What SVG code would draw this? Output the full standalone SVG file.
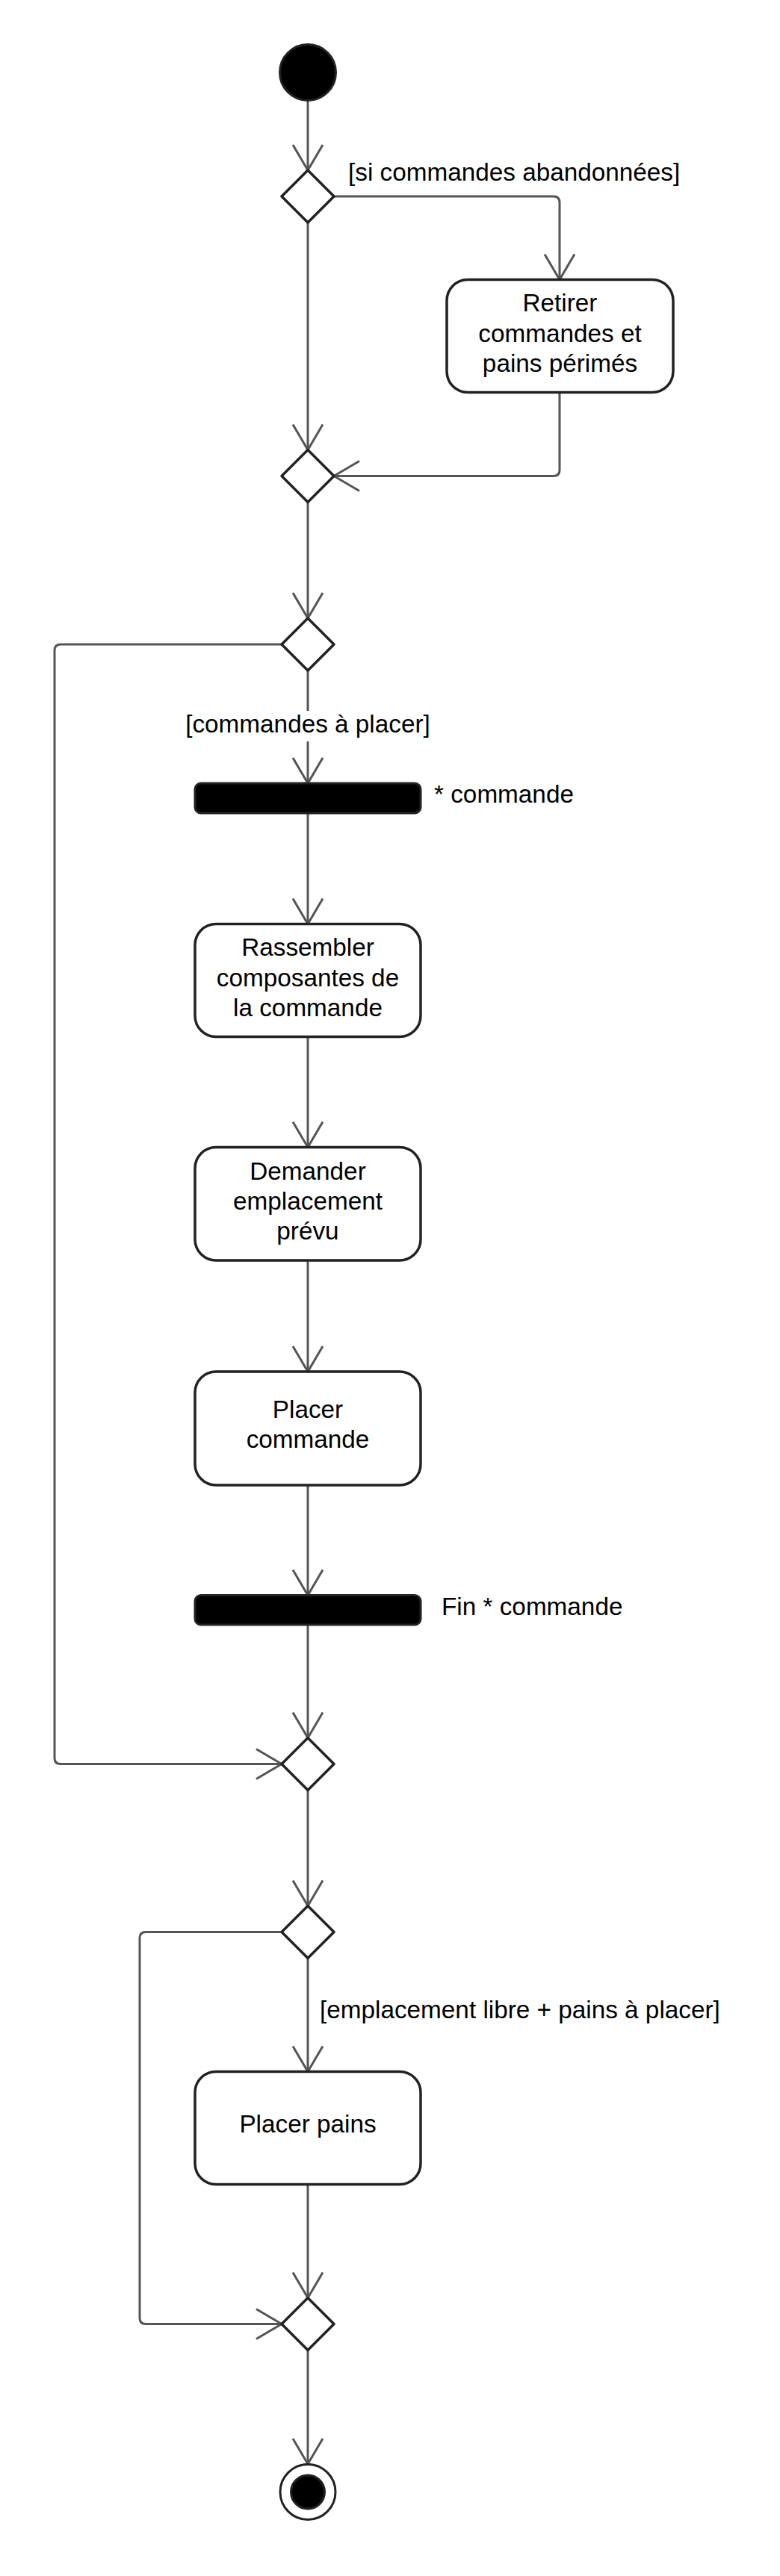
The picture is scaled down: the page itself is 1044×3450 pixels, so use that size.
<svg xmlns="http://www.w3.org/2000/svg" width="1044" height="3450" viewBox="0 0 1044 3450">
<style>
.node{fill:#fff;stroke:#222;stroke-width:3.5;stroke-linejoin:round}
.bar{fill:#000;stroke:#222;stroke-width:3}
.conn{fill:none;stroke:#555;stroke-width:3}
.t{font-family:"Liberation Sans",Arial,sans-serif;font-size:33.3px;fill:#000}
.c{text-anchor:middle}
</style>
<defs>
<marker id="arr" markerUnits="userSpaceOnUse" markerWidth="50" markerHeight="50" viewBox="-40 -25 45 50" refX="0" refY="0" orient="auto" overflow="visible">
<path d="M-34,-20 L0,0 L-34,20" fill="none" stroke="#555" stroke-width="3"/>
</marker>
</defs>
<rect width="1044" height="3450" fill="#fff"/>
<g id="connectors">
<path class="conn" d="M412 134.5 V228" marker-end="url(#arr)"/>
<path class="conn" d="M447 263 H741 Q749 263 749 271 V374.5" marker-end="url(#arr)"/>
<path class="conn" d="M412 298 V602.5" marker-end="url(#arr)"/>
<path class="conn" d="M749 525.5 V629.5 Q749 637.5 741 637.5 H447" marker-end="url(#arr)"/>
<path class="conn" d="M412 672.5 V828" marker-end="url(#arr)"/>
<path class="conn" d="M377 863 H81 Q73 863 73 871 V2354.5 Q73 2362.5 81 2362.5 H377" marker-end="url(#arr)"/>
<path class="conn" d="M412 898 V952"/>
<path class="conn" d="M412 993 V1049" marker-end="url(#arr)"/>
<path class="conn" d="M412 1089 V1237.5" marker-end="url(#arr)"/>
<path class="conn" d="M412 1388.5 V1536.5" marker-end="url(#arr)"/>
<path class="conn" d="M412 1688 V1837" marker-end="url(#arr)"/>
<path class="conn" d="M412 1989 V2136.5" marker-end="url(#arr)"/>
<path class="conn" d="M412 2176 V2327.5" marker-end="url(#arr)"/>
<path class="conn" d="M412 2397.5 V2552.5" marker-end="url(#arr)"/>
<path class="conn" d="M412 2622.5 V2774.5" marker-end="url(#arr)"/>
<path class="conn" d="M377 2587.5 H195 Q187 2587.5 187 2595.5 V3104.5 Q187 3112.5 195 3112.5 H377" marker-end="url(#arr)"/>
<path class="conn" d="M412 2925.5 V3077.5" marker-end="url(#arr)"/>
<path class="conn" d="M412 3147.5 V3300" marker-end="url(#arr)"/>
<text class="t" x="466" y="241.5">[si commandes abandonnées]</text>
<text class="t c" x="412" y="980.5">[commandes à placer]</text>
<text class="t" x="428" y="2703">[emplacement libre + pains à placer]</text>
</g>
<g id="start"><circle cx="412" cy="97" r="37.5" fill="#000" stroke="#222" stroke-width="3"/></g>
<g id="d1"><polygon class="node" points="412,228 447,263 412,298 377,263"/></g>
<g id="retirer"><rect class="node" x="598" y="374.5" width="303" height="151" rx="28"/>
<text class="t c" x="749.5" y="417">Retirer</text>
<text class="t c" x="749.5" y="457.5">commandes et</text>
<text class="t c" x="749.5" y="497.5">pains périmés</text></g>
<g id="d2"><polygon class="node" points="412,602.5 447,637.5 412,672.5 377,637.5"/></g>
<g id="d3"><polygon class="node" points="412,828 447,863 412,898 377,863"/></g>
<g id="fork"><rect class="bar" x="261" y="1049" width="302" height="40" rx="8"/>
<text class="t" x="581" y="1075">* commande</text></g>
<g id="rassembler"><rect class="node" x="261" y="1237.5" width="302" height="151" rx="28"/>
<text class="t c" x="412" y="1280">Rassembler</text>
<text class="t c" x="412" y="1320.5">composantes de</text>
<text class="t c" x="412" y="1361">la commande</text></g>
<g id="demander"><rect class="node" x="261" y="1536.5" width="302" height="151.5" rx="28"/>
<text class="t c" x="412" y="1580">Demander</text>
<text class="t c" x="412" y="1620">emplacement</text>
<text class="t c" x="412" y="1660">prévu</text></g>
<g id="placercommande"><rect class="node" x="261" y="1837" width="302" height="152" rx="28"/>
<text class="t c" x="412" y="1899">Placer</text>
<text class="t c" x="412" y="1939">commande</text></g>
<g id="join"><rect class="bar" x="261" y="2136.5" width="302" height="39.5" rx="8"/>
<text class="t" x="591" y="2162.5">Fin * commande</text></g>
<g id="d4"><polygon class="node" points="412,2327.5 447,2362.5 412,2397.5 377,2362.5"/></g>
<g id="d5"><polygon class="node" points="412,2552.5 447,2587.5 412,2622.5 377,2587.5"/></g>
<g id="placerpains"><rect class="node" x="261" y="2774.5" width="302" height="151" rx="28"/>
<text class="t c" x="412" y="2856">Placer pains</text></g>
<g id="d6"><polygon class="node" points="412,3077.5 447,3112.5 412,3147.5 377,3112.5"/></g>
<g id="end"><circle cx="412" cy="3337.5" r="37" fill="#fff" stroke="#222" stroke-width="3"/>
<circle cx="412" cy="3337.5" r="22.5" fill="#000" stroke="#222" stroke-width="3"/></g>
</svg>
